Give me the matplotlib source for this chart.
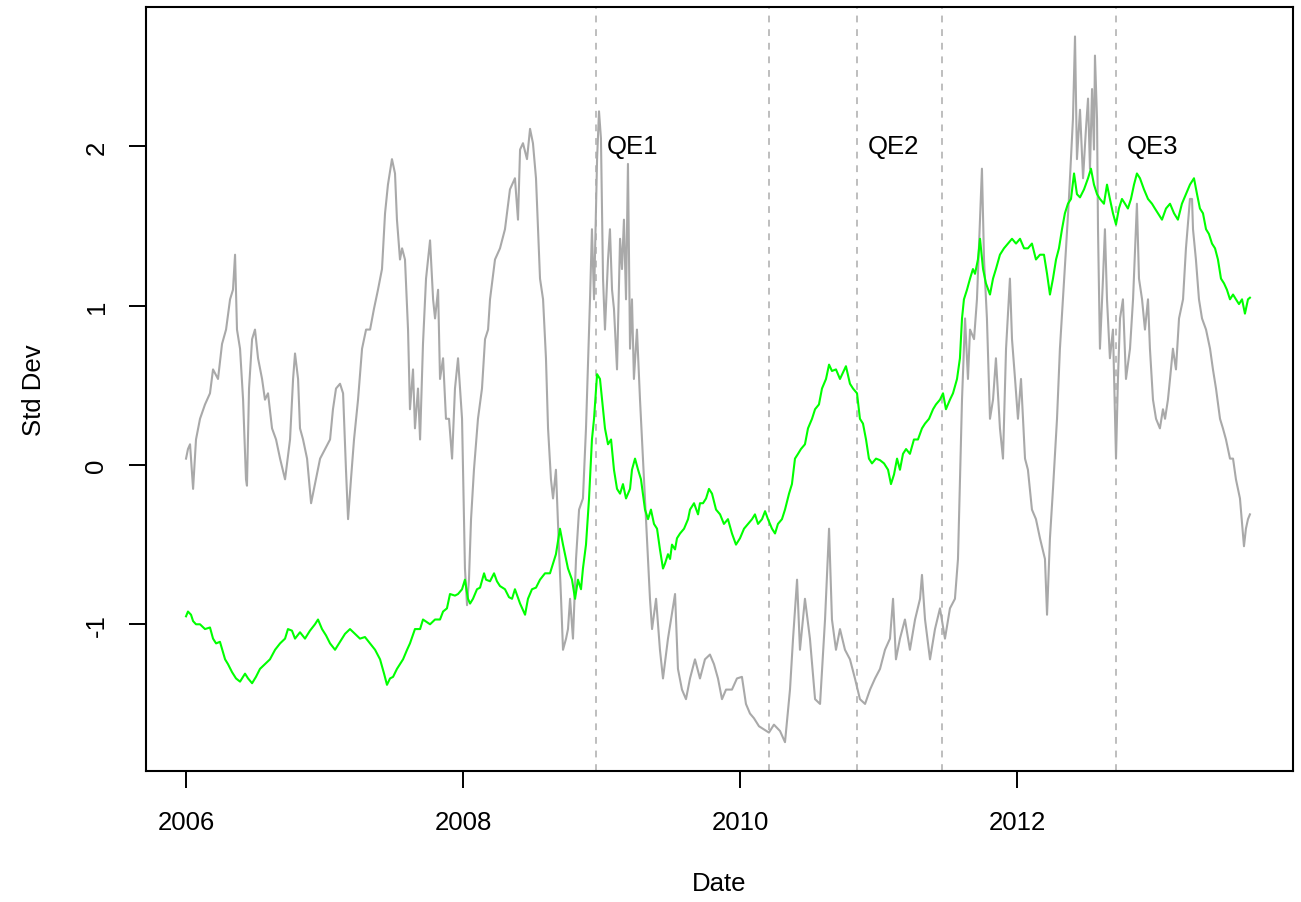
import matplotlib
matplotlib.use("Agg")
import matplotlib.pyplot as plt

plt.rcParams['font.family'] = ['Liberation Sans', 'DejaVu Sans']

# ---------------- data (decimal years, standardized values) ----------------
gray_t = [2006.000, 2006.014, 2006.029, 2006.051, 2006.072, 2006.101, 2006.137, 2006.173, 2006.195, 2006.231,
          2006.260, 2006.289, 2006.318, 2006.339, 2006.354, 2006.368, 2006.390, 2006.412, 2006.433, 2006.440,
          2006.455, 2006.477, 2006.498, 2006.520, 2006.549, 2006.570, 2006.592, 2006.621, 2006.650, 2006.679,
          2006.715, 2006.751, 2006.773, 2006.787, 2006.809, 2006.823, 2006.845, 2006.874, 2006.903, 2006.931,
          2006.968, 2007.004, 2007.040, 2007.061, 2007.083, 2007.112, 2007.134, 2007.155, 2007.170, 2007.191,
          2007.213, 2007.242, 2007.271, 2007.300, 2007.329, 2007.357, 2007.386, 2007.415, 2007.437, 2007.458,
          2007.487, 2007.509, 2007.523, 2007.545, 2007.560, 2007.581, 2007.603, 2007.617, 2007.639, 2007.653,
          2007.675, 2007.690, 2007.711, 2007.733, 2007.762, 2007.784, 2007.798, 2007.820, 2007.834, 2007.856,
          2007.877, 2007.899, 2007.921, 2007.942, 2007.964, 2007.993, 2008.014, 2008.029, 2008.043, 2008.058,
          2008.079, 2008.108, 2008.137, 2008.159, 2008.181, 2008.195, 2008.231, 2008.267, 2008.303, 2008.339,
          2008.375, 2008.397, 2008.412, 2008.433, 2008.462, 2008.484, 2008.505, 2008.527, 2008.556, 2008.578,
          2008.599, 2008.614, 2008.635, 2008.650, 2008.671, 2008.693, 2008.708, 2008.722, 2008.744, 2008.758,
          2008.773, 2008.794, 2008.816, 2008.838, 2008.866, 2008.888, 2008.917, 2008.931, 2008.946, 2008.968,
          2008.982, 2008.996, 2009.011, 2009.025, 2009.047, 2009.061, 2009.076, 2009.090, 2009.112, 2009.134,
          2009.148, 2009.162, 2009.177, 2009.191, 2009.206, 2009.220, 2009.234, 2009.256, 2009.278, 2009.314,
          2009.350, 2009.365, 2009.394, 2009.422, 2009.444, 2009.480, 2009.531, 2009.552, 2009.581, 2009.610,
          2009.639, 2009.675, 2009.711, 2009.747, 2009.783, 2009.812, 2009.841, 2009.870, 2009.899, 2009.942,
          2009.978, 2010.014, 2010.043, 2010.072, 2010.101, 2010.137, 2010.173, 2010.209, 2010.245, 2010.289,
          2010.325, 2010.361, 2010.383, 2010.412, 2010.433, 2010.469, 2010.505, 2010.542, 2010.578, 2010.614,
          2010.643, 2010.664, 2010.693, 2010.722, 2010.758, 2010.794, 2010.830, 2010.866, 2010.903, 2010.939,
          2010.975, 2011.011, 2011.047, 2011.083, 2011.105, 2011.126, 2011.155, 2011.191, 2011.227, 2011.264,
          2011.300, 2011.314, 2011.336, 2011.372, 2011.408, 2011.444, 2011.480, 2011.516, 2011.552, 2011.574,
          2011.603, 2011.625, 2011.646, 2011.661, 2011.690, 2011.711, 2011.747, 2011.762, 2011.783, 2011.805,
          2011.827, 2011.848, 2011.877, 2011.899, 2011.921, 2011.949, 2011.964, 2011.986, 2012.007, 2012.029,
          2012.058, 2012.079, 2012.108, 2012.137, 2012.166, 2012.202, 2012.217, 2012.238, 2012.260, 2012.289,
          2012.310, 2012.332, 2012.354, 2012.375, 2012.404, 2012.419, 2012.433, 2012.455, 2012.477, 2012.498,
          2012.513, 2012.527, 2012.542, 2012.556, 2012.563, 2012.578, 2012.585, 2012.599, 2012.621, 2012.635,
          2012.650, 2012.671, 2012.693, 2012.715, 2012.729, 2012.744, 2012.765, 2012.787, 2012.816, 2012.838,
          2012.866, 2012.881, 2012.903, 2012.924, 2012.946, 2012.960, 2012.982, 2013.004, 2013.032, 2013.054,
          2013.069, 2013.090, 2013.105, 2013.126, 2013.148, 2013.170, 2013.199, 2013.220, 2013.249, 2013.264,
          2013.271, 2013.292, 2013.314, 2013.336, 2013.365, 2013.394, 2013.415, 2013.437, 2013.466, 2013.487,
          2013.509, 2013.538, 2013.560, 2013.581, 2013.610, 2013.639, 2013.653, 2013.668, 2013.682]
gray_v = [0.04, 0.10, 0.13, -0.15, 0.16, 0.29, 0.38, 0.45, 0.60, 0.54,
          0.76, 0.85, 1.04, 1.10, 1.32, 0.85, 0.73, 0.41, -0.09, -0.13,
          0.48, 0.79, 0.85, 0.67, 0.54, 0.41, 0.45, 0.23, 0.16, 0.04,
          -0.09, 0.16, 0.54, 0.70, 0.54, 0.23, 0.16, 0.04, -0.24, -0.12,
          0.04, 0.10, 0.16, 0.35, 0.48, 0.51, 0.45, -0.03, -0.34, -0.09,
          0.16, 0.41, 0.73, 0.85, 0.85, 0.98, 1.10, 1.23, 1.58, 1.76,
          1.92, 1.83, 1.54, 1.29, 1.36, 1.29, 0.85, 0.35, 0.60, 0.23,
          0.48, 0.16, 0.76, 1.17, 1.41, 1.04, 0.92, 1.10, 0.54, 0.67,
          0.29, 0.29, 0.04, 0.48, 0.67, 0.29, -0.65, -0.88, -0.72, -0.34,
          -0.03, 0.29, 0.48, 0.79, 0.85, 1.04, 1.29, 1.36, 1.48, 1.73,
          1.80, 1.54, 1.98, 2.02, 1.92, 2.11, 2.02, 1.80, 1.17, 1.04,
          0.67, 0.23, -0.09, -0.21, -0.03, -0.53, -0.84, -1.16, -1.09, -1.03,
          -0.84, -1.09, -0.59, -0.28, -0.21, 0.23, 1.04, 1.48, 1.04, 1.92,
          2.22, 2.05, 1.17, 0.85, 1.29, 1.48, 1.10, 0.98, 0.60, 1.42,
          1.23, 1.54, 1.04, 1.89, 0.73, 1.04, 0.54, 0.85, 0.41, -0.21,
          -0.84, -1.03, -0.84, -1.16, -1.34, -1.09, -0.81, -1.28, -1.41, -1.47,
          -1.34, -1.22, -1.34, -1.22, -1.19, -1.25, -1.34, -1.47, -1.41, -1.41,
          -1.34, -1.33, -1.50, -1.56, -1.59, -1.64, -1.66, -1.68, -1.63, -1.67,
          -1.74, -1.41, -1.09, -0.72, -1.16, -0.84, -1.09, -1.47, -1.50, -0.97,
          -0.40, -0.97, -1.16, -1.03, -1.16, -1.22, -1.34, -1.47, -1.50, -1.41,
          -1.34, -1.28, -1.16, -1.09, -0.84, -1.22, -1.09, -0.97, -1.16, -0.97,
          -0.84, -0.69, -0.97, -1.22, -1.03, -0.90, -1.09, -0.90, -0.84, -0.59,
          0.41, 0.92, 0.54, 0.85, 0.79, 1.04, 1.86, 1.29, 0.92, 0.29,
          0.41, 0.67, 0.23, 0.04, 0.73, 1.17, 0.79, 0.54, 0.29, 0.54,
          0.04, -0.03, -0.28, -0.34, -0.46, -0.59, -0.94, -0.46, -0.15, 0.29,
          0.73, 1.04, 1.36, 1.67, 2.17, 2.69, 1.92, 2.23, 1.80, 2.11,
          2.30, 1.86, 2.36, 1.98, 2.57, 2.17, 1.48, 0.73, 1.17, 1.48,
          1.04, 0.67, 0.85, 0.04, 0.54, 0.92, 1.04, 0.54, 0.73, 1.04,
          1.64, 1.17, 1.04, 0.85, 1.04, 0.73, 0.41, 0.29, 0.23, 0.35,
          0.29, 0.41, 0.54, 0.73, 0.60, 0.92, 1.04, 1.36, 1.67, 1.67,
          1.48, 1.29, 1.04, 0.92, 0.85, 0.73, 0.60, 0.48, 0.29, 0.23,
          0.16, 0.04, 0.04, -0.09, -0.21, -0.51, -0.40, -0.34, -0.31]

green_t = [2006.000, 2006.014, 2006.036, 2006.051, 2006.072, 2006.101, 2006.137, 2006.173, 2006.195, 2006.217,
           2006.245, 2006.282, 2006.303, 2006.332, 2006.361, 2006.390, 2006.426, 2006.448, 2006.477, 2006.505,
           2006.534, 2006.570, 2006.606, 2006.643, 2006.679, 2006.715, 2006.736, 2006.765, 2006.787, 2006.823,
           2006.859, 2006.895, 2006.931, 2006.953, 2006.982, 2007.011, 2007.040, 2007.076, 2007.112, 2007.148,
           2007.184, 2007.220, 2007.256, 2007.292, 2007.329, 2007.365, 2007.401, 2007.430, 2007.451, 2007.473,
           2007.495, 2007.523, 2007.545, 2007.567, 2007.596, 2007.617, 2007.653, 2007.690, 2007.711, 2007.762,
           2007.798, 2007.834, 2007.856, 2007.884, 2007.906, 2007.942, 2007.964, 2007.993, 2008.014, 2008.036,
           2008.051, 2008.072, 2008.101, 2008.123, 2008.152, 2008.166, 2008.195, 2008.224, 2008.245, 2008.267,
           2008.303, 2008.332, 2008.354, 2008.375, 2008.412, 2008.448, 2008.469, 2008.498, 2008.527, 2008.556,
           2008.592, 2008.628, 2008.671, 2008.700, 2008.722, 2008.744, 2008.758, 2008.787, 2008.809, 2008.830,
           2008.852, 2008.866, 2008.888, 2008.910, 2008.931, 2008.946, 2008.968, 2008.989, 2009.004, 2009.025,
           2009.047, 2009.069, 2009.090, 2009.112, 2009.134, 2009.155, 2009.177, 2009.206, 2009.220, 2009.242,
           2009.264, 2009.285, 2009.314, 2009.336, 2009.357, 2009.379, 2009.401, 2009.422, 2009.444, 2009.458,
           2009.480, 2009.495, 2009.509, 2009.531, 2009.545, 2009.567, 2009.596, 2009.625, 2009.639, 2009.668,
           2009.697, 2009.711, 2009.733, 2009.755, 2009.776, 2009.798, 2009.827, 2009.856, 2009.884, 2009.913,
           2009.942, 2009.971, 2010.000, 2010.029, 2010.058, 2010.087, 2010.108, 2010.130, 2010.159, 2010.181,
           2010.202, 2010.231, 2010.253, 2010.274, 2010.303, 2010.325, 2010.354, 2010.375, 2010.397, 2010.419,
           2010.440, 2010.469, 2010.491, 2010.520, 2010.542, 2010.570, 2010.592, 2010.621, 2010.643, 2010.664,
           2010.693, 2010.722, 2010.765, 2010.794, 2010.816, 2010.845, 2010.866, 2010.888, 2010.910, 2010.931,
           2010.953, 2010.982, 2011.011, 2011.040, 2011.069, 2011.090, 2011.112, 2011.134, 2011.155, 2011.177,
           2011.199, 2011.227, 2011.256, 2011.285, 2011.314, 2011.336, 2011.365, 2011.394, 2011.415, 2011.444,
           2011.466, 2011.487, 2011.516, 2011.538, 2011.567, 2011.588, 2011.603, 2011.617, 2011.639, 2011.661,
           2011.682, 2011.697, 2011.718, 2011.733, 2011.755, 2011.776, 2011.805, 2011.827, 2011.848, 2011.877,
           2011.906, 2011.935, 2011.964, 2011.993, 2012.022, 2012.051, 2012.079, 2012.108, 2012.137, 2012.166,
           2012.195, 2012.217, 2012.238, 2012.260, 2012.282, 2012.303, 2012.325, 2012.346, 2012.368, 2012.390,
           2012.412, 2012.433, 2012.455, 2012.484, 2012.513, 2012.534, 2012.556, 2012.578, 2012.599, 2012.628,
           2012.650, 2012.671, 2012.693, 2012.715, 2012.736, 2012.758, 2012.780, 2012.801, 2012.823, 2012.845,
           2012.866, 2012.888, 2012.917, 2012.946, 2012.975, 2012.996, 2013.018, 2013.047, 2013.076, 2013.105,
           2013.134, 2013.162, 2013.191, 2013.220, 2013.249, 2013.278, 2013.300, 2013.321, 2013.343, 2013.365,
           2013.386, 2013.408, 2013.430, 2013.451, 2013.473, 2013.495, 2013.516, 2013.538, 2013.560, 2013.581,
           2013.603, 2013.625, 2013.646, 2013.668, 2013.682]
green_v = [-0.95, -0.92, -0.94, -0.98, -1.00, -1.00, -1.03, -1.02, -1.09, -1.12,
           -1.11, -1.22, -1.25, -1.30, -1.34, -1.36, -1.31, -1.34, -1.37, -1.33,
           -1.28, -1.25, -1.22, -1.16, -1.12, -1.09, -1.03, -1.04, -1.09, -1.05,
           -1.09, -1.04, -1.00, -0.97, -1.03, -1.07, -1.12, -1.16, -1.11, -1.06,
           -1.03, -1.06, -1.09, -1.08, -1.12, -1.16, -1.22, -1.31, -1.38, -1.34,
           -1.33, -1.28, -1.25, -1.22, -1.16, -1.12, -1.03, -1.03, -0.97, -1.00,
           -0.97, -0.97, -0.92, -0.90, -0.81, -0.82, -0.81, -0.78, -0.72, -0.84,
           -0.87, -0.84, -0.78, -0.77, -0.68, -0.72, -0.73, -0.68, -0.73, -0.76,
           -0.78, -0.83, -0.84, -0.78, -0.87, -0.94, -0.84, -0.78, -0.77, -0.72,
           -0.68, -0.68, -0.56, -0.40, -0.50, -0.59, -0.65, -0.72, -0.84, -0.72,
           -0.78, -0.65, -0.50, -0.21, 0.16, 0.29, 0.57, 0.54, 0.41, 0.23,
           0.13, 0.16, -0.03, -0.15, -0.18, -0.12, -0.21, -0.15, -0.03, 0.04,
           -0.03, -0.09, -0.28, -0.34, -0.28, -0.37, -0.40, -0.53, -0.65, -0.62,
           -0.56, -0.59, -0.50, -0.53, -0.46, -0.43, -0.40, -0.34, -0.28, -0.24,
           -0.31, -0.24, -0.24, -0.21, -0.15, -0.18, -0.28, -0.31, -0.37, -0.34,
           -0.43, -0.50, -0.46, -0.40, -0.37, -0.34, -0.31, -0.37, -0.34, -0.29,
           -0.34, -0.40, -0.43, -0.37, -0.34, -0.28, -0.18, -0.12, 0.04, 0.07,
           0.10, 0.13, 0.23, 0.29, 0.35, 0.38, 0.48, 0.54, 0.63, 0.59,
           0.60, 0.54, 0.62, 0.51, 0.48, 0.45, 0.29, 0.26, 0.16, 0.04,
           0.01, 0.04, 0.03, 0.01, -0.03, -0.12, -0.06, 0.04, -0.03, 0.07,
           0.10, 0.07, 0.16, 0.16, 0.23, 0.26, 0.29, 0.35, 0.38, 0.41,
           0.45, 0.35, 0.41, 0.45, 0.54, 0.67, 0.92, 1.04, 1.10, 1.17,
           1.23, 1.20, 1.29, 1.42, 1.23, 1.14, 1.07, 1.17, 1.23, 1.32,
           1.36, 1.39, 1.42, 1.39, 1.42, 1.36, 1.36, 1.39, 1.29, 1.32,
           1.32, 1.20, 1.07, 1.17, 1.29, 1.36, 1.48, 1.58, 1.64, 1.67,
           1.83, 1.70, 1.68, 1.73, 1.80, 1.86, 1.76, 1.70, 1.67, 1.64,
           1.76, 1.67, 1.58, 1.51, 1.61, 1.67, 1.64, 1.61, 1.67, 1.76,
           1.83, 1.80, 1.73, 1.67, 1.64, 1.61, 1.58, 1.54, 1.61, 1.64,
           1.58, 1.54, 1.64, 1.70, 1.76, 1.80, 1.70, 1.61, 1.58, 1.48,
           1.45, 1.39, 1.36, 1.29, 1.17, 1.14, 1.10, 1.04, 1.07, 1.04,
           1.01, 1.04, 0.95, 1.04, 1.05]

qe_dates = [2008.960, 2010.209, 2010.845, 2011.458, 2012.715]
qe_labels = ["QE1", "", "QE2", "", "QE3"]
x_ticks = [2006, 2008, 2010, 2012]
y_ticks = [-1, 0, 1, 2]

# ---------------- figure ----------------
W, H = 1301, 903
fig = plt.figure(figsize=(W / 100, H / 100), dpi=100)
ax = fig.add_axes([146 / W, 1 - 772 / H, (1293 - 146) / W, (772 - 8) / H])

ax.plot(gray_t, gray_v, color='#A9A9A9', lw=1.5, zorder=2)
ax.plot(green_t, green_v, color='#00FF00', lw=1.5, zorder=3)

for d, lab in zip(qe_dates, qe_labels):
    ax.axvline(d, color='#BEBEBE', lw=1.4, ls=(0, (3.5, 3.5)), zorder=1)
    if lab:
        ax.annotate(lab, xy=(d, 2.0), xytext=(8, 0), textcoords='offset points',
                    ha='left', va='center', fontsize=18.5)

ax.set_xlim(2005.711, 2013.993)
ax.set_ylim(-1.921, 2.875)

ax.set_xticks(x_ticks)
ax.set_xticklabels([str(t) for t in x_ticks])
ax.set_yticks(y_ticks)
ax.set_yticklabels([str(t) for t in y_ticks], rotation=90, va='center')

ax.tick_params(axis='both', direction='out', length=12, width=1.4, labelsize=18.5,
               colors='black')
ax.tick_params(axis='x', pad=16)
ax.tick_params(axis='y', pad=15)

for s in ax.spines.values():
    s.set_linewidth(1.5)
    s.set_color('black')

fig.text(0.5 * (146 + 1293) / W, 1 - 884 / H, "Date", ha='center', va='center', fontsize=18.5)
fig.text(34 / W, 1 - 0.5 * (8 + 772) / H, "Std Dev", ha='center', va='center', rotation=90,
         fontsize=18.5)

fig.savefig("out.png", dpi=100)
